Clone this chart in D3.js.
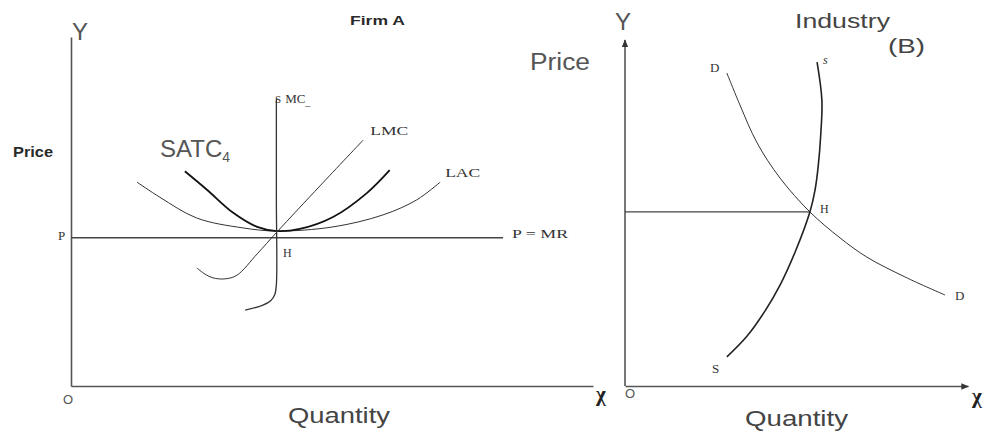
<!DOCTYPE html>
<html><head><meta charset="utf-8">
<script src="https://cdn.jsdelivr.net/npm/d3@7"></script>
<style>body{margin:0;background:#fff}svg{display:block}</style>
</head><body>
<svg id="c" width="984" height="433"></svg>
<script>
// ---------- data (quantity, price) ----------
// Firm A
const firmPrice = 2.85;          // P = MR level
const firmMrEnd = 8.31;          // where the P = MR line stops
const lacCurve  = [[1.27,3.92],[1.71,3.63],[2.42,3.23],[3.31,3.04],[3.96,2.98],[5.04,3.06],[6.00,3.29],[6.65,3.58],[7.10,3.92]];
const satcCurve = [[2.19,4.13],[2.62,3.77],[3.12,3.33],[3.58,3.06],[3.96,2.98],[4.40,3.02],[5.04,3.25],[5.69,3.71],[6.13,4.15]];
const lmcCurve  = [[2.42,2.27],[2.58,2.15],[2.73,2.08],[2.96,2.06],[3.19,2.13],[3.58,2.54],[3.96,2.96],[4.79,3.85],[5.62,4.73]];
const smcCurve  = [[3.95,5.52],[3.95,3.60],[3.95,1.95],[3.92,1.76],[3.84,1.64],[3.68,1.55],[3.35,1.46]];
// Industry B
const industryPrice = 5.09;
const industryQty   = 5.39;
const demandCurve = [[2.97,9.15],[3.35,8.22],[3.85,7.11],[4.52,6.08],[5.39,5.09],[6.27,4.33],[7.05,3.77],[8.16,3.19],[9.33,2.66]];
const supplyCurve = [[2.97,0.85],[3.56,1.46],[4.08,2.19],[4.52,2.95],[4.96,3.92],[5.39,5.09],[5.54,5.73],[5.63,6.40],[5.71,7.40],[5.74,8.36],[5.60,9.47]];
// text
const firmTitle = "Firm A", industryTitle = "Industry", industrySub = "(B)";
const priceLabel = "Price", qtyLabel = "Quantity", yLabel = "Y", xLabel = "χ", originLabel = "O";

// ---------- drawing ----------
const svg = d3.select("#c");
const sans = "'Liberation Sans', Arial, sans-serif";
const serif = "'Liberation Serif', 'Times New Roman', serif";

const defs = svg.append("defs");
defs.append("marker").attr("id","arr").attr("viewBox","0 0 10 10").attr("refX",9).attr("refY",5)
  .attr("markerWidth",5).attr("markerHeight",5).attr("orient","auto")
  .append("path").attr("d","M0,1 L10,5 L0,9 Z").attr("fill","#333");

// scales
const xL = d3.scaleLinear().domain([0,10.04]).range([71,593]);
const yL = d3.scaleLinear().domain([0,6.712]).range([386,37]);
const xR = d3.scaleLinear().domain([0,10]).range([625,968]);
const yR = d3.scaleLinear().domain([0,10]).range([386,44]);

function axisStyle(g){ g.select(".domain").attr("stroke","#555").attr("stroke-width",1.6); g.selectAll(".tick").remove(); }

// left axes
svg.append("g").attr("transform",`translate(0,${yL(0)})`).call(d3.axisBottom(xL).tickValues([]).tickSizeOuter(0)).call(axisStyle);
svg.append("g").attr("transform",`translate(${xL(0)},0)`).call(d3.axisLeft(yL).tickValues([]).tickSizeOuter(0)).call(axisStyle);
// right axes
svg.append("g").attr("transform",`translate(0,${yR(0)})`).call(d3.axisBottom(xR).tickValues([]).tickSizeOuter(0)).call(axisStyle)
   .select(".domain").attr("marker-end","url(#arr)");
const yAxR = svg.append("g").attr("transform",`translate(${xR(0)},0)`).call(d3.axisLeft(yR).tickValues([]).tickSizeOuter(0)).call(axisStyle);
yAxR.select(".domain").attr("d",`M0,${yR(0)}V${yR(10)-4}`).attr("marker-end","url(#arr)");

const lineL = d3.line().x(d=>xL(d[0])).y(d=>yL(d[1])).curve(d3.curveCatmullRom.alpha(0.5));
const lineR = d3.line().x(d=>xR(d[0])).y(d=>yR(d[1])).curve(d3.curveCatmullRom.alpha(0.5));

// Firm A lines
svg.append("line").attr("x1",xL(0)).attr("x2",xL(firmMrEnd)).attr("y1",yL(firmPrice)).attr("y2",yL(firmPrice))
  .attr("stroke","#444").attr("stroke-width",1.4);
svg.append("path").attr("d",lineL(lacCurve)).attr("fill","none").attr("stroke","#333").attr("stroke-width",1);
svg.append("path").attr("d",lineL(satcCurve)).attr("fill","none").attr("stroke","#111").attr("stroke-width",1.8);
svg.append("path").attr("d",lineL(lmcCurve)).attr("fill","none").attr("stroke","#333").attr("stroke-width",1);
svg.append("path").attr("d",lineL(smcCurve)).attr("fill","none").attr("stroke","#333").attr("stroke-width",1.3);

// Industry lines
svg.append("line").attr("x1",xR(0)).attr("x2",xR(industryQty)).attr("y1",yR(industryPrice)).attr("y2",yR(industryPrice))
  .attr("stroke","#444").attr("stroke-width",1.4);
svg.append("path").attr("d",lineR(demandCurve)).attr("fill","none").attr("stroke","#333").attr("stroke-width",1);
svg.append("path").attr("d",lineR(supplyCurve)).attr("fill","none").attr("stroke","#222").attr("stroke-width",1.6);

// labels
function txt(x,y,s,o){
  o=o||{};
  const t=svg.append("text").attr("x",x).attr("y",y).text(s)
    .attr("font-family",o.ff||sans).attr("font-size",o.fs||13).attr("fill",o.fill||"#333");
  if(o.fw) t.attr("font-weight",o.fw);
  if(o.fst) t.attr("font-style",o.fst);
  if(o.tl){ t.attr("textLength",o.tl).attr("lengthAdjust","spacingAndGlyphs"); }
  return t;
}
// left panel
txt(350,25,firmTitle,{fs:13,fw:"bold",fill:"#2a2a2a",tl:55});
txt(13,157,priceLabel,{fs:14,fw:"bold",fill:"#2a2a2a",tl:40});
txt(72,40,yLabel,{fs:24,fill:"#555"});
const satc = txt(160,157,"SATC",{fs:24,fill:"#555"});
satc.append("tspan").attr("font-size",14).attr("dy",5).text("4");
const smc = txt(275,103,"S",{ff:serif,fs:11});
smc.append("tspan").attr("dx",4).attr("font-size",13).text("MC");
smc.append("tspan").attr("font-size",10).attr("dy",2).text("_");
txt(xL(lmcCurve[lmcCurve.length-1][0])+7,135,"LMC",{ff:serif,fs:13,tl:38});
txt(xL(lacCurve[lacCurve.length-1][0])+5,177,"LAC",{ff:serif,fs:13,tl:35});
txt(xL(firmMrEnd)+9,yL(firmPrice),"P = MR",{ff:serif,fs:13,tl:56});
txt(58,yL(firmPrice)+2,"P",{ff:serif,fs:13});
txt(283,257,"H",{ff:serif,fs:12});
txt(63,404,originLabel,{fs:13,fill:"#555"});
txt(596,401,xLabel,{ff:serif,fs:21,fw:"bold",fill:"#222"});
txt(288,423,qtyLabel,{fs:22,fill:"#444",tl:102});

// right panel
txt(615,30,yLabel,{fs:24,fill:"#555"});
txt(795,28,industryTitle,{fs:21,fill:"#444",tl:95});
txt(888,53,industrySub,{fs:21,fill:"#444",tl:37});
txt(530,70,priceLabel,{fs:23,fill:"#555",tl:60});
txt(710,72,"D",{ff:serif,fs:13});
txt(823,64,"s",{ff:serif,fs:12,fst:"italic"});
txt(820,213,"H",{ff:serif,fs:12});
txt(955,300,"D",{ff:serif,fs:13});
txt(712,373,"S",{ff:serif,fs:13});
txt(625,398,originLabel,{fs:13,fill:"#555"});
txt(972,403,xLabel,{ff:serif,fs:21,fw:"bold",fill:"#222"});
txt(745,426,qtyLabel,{fs:22,fill:"#444",tl:103});
</script>
</body></html>
